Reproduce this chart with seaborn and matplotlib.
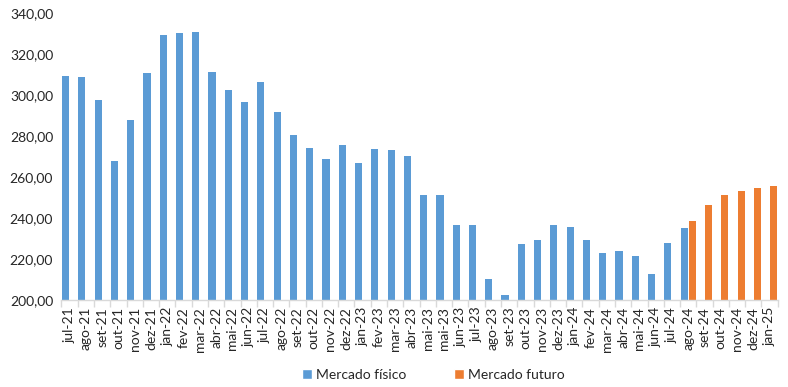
import numpy as np
import pandas as pd
import seaborn as sns
import matplotlib
matplotlib.use('Agg')
import matplotlib.pyplot as plt
from matplotlib.ticker import FuncFormatter, FixedLocator
from matplotlib.patches import Patch

# month labels as printed on the chart (mai-23 appears twice in the source)
meses = ['jul-21', 'ago-21', 'set-21', 'out-21', 'nov-21', 'dez-21',
         'jan-22', 'fev-22', 'mar-22', 'abr-22', 'mai-22', 'jun-22',
         'jul-22', 'ago-22', 'set-22', 'out-22', 'nov-22', 'dez-22',
         'jan-23', 'fev-23', 'mar-23', 'abr-23', 'mai-23', 'mai-23',
         'jun-23', 'jul-23', 'ago-23', 'set-23', 'out-23', 'nov-23',
         'dez-23', 'jan-24', 'fev-24', 'mar-24', 'abr-24', 'mai-24',
         'jun-24', 'jul-24', 'ago-24', 'set-24', 'out-24', 'nov-24',
         'dez-24', 'jan-25']

# Mercado fisico: jul-21 .. ago-24
fisico = [309.1, 308.8, 297.6, 267.8, 287.8, 310.7, 329.3, 330.2, 330.7,
          311.2, 302.4, 296.7, 306.3, 291.7, 280.3, 274.1, 268.8, 275.6,
          266.8, 273.5, 273.3, 270.4, 251.2, 251.2, 236.6, 236.7, 210.1,
          202.4, 227.3, 229.4, 236.8, 235.6, 229.3, 222.9, 223.7, 221.6,
          212.7, 227.6, 235.1]

# Mercado futuro: ago-24 .. jan-25
futuro = [238.7, 246.3, 251.1, 253.2, 254.6, 255.6]

cores = {'Mercado físico': '#5B9BD5', 'Mercado futuro': '#ED7D31'}

rows = []
for i, v in enumerate(fisico):
    rows.append({'pos': i, 'serie': 'Mercado físico', 'valor': v})
inicio_fut = len(fisico) - 1
for j, v in enumerate(futuro):
    rows.append({'pos': inicio_fut + j, 'serie': 'Mercado futuro', 'valor': v})
df = pd.DataFrame(rows)

sns.set_style('white')
plt.rcParams['font.family'] = ['Lato', 'DejaVu Sans']

fig = plt.figure(figsize=(7.88, 3.87), dpi=100)
ax = fig.add_axes([0.078, 0.225, 0.909, 0.741])

sns.barplot(data=df, x='pos', y='valor', hue='serie', order=list(range(len(meses))),
            hue_order=list(cores), palette=cores, width=1.0, gap=0.12,
            dodge=True, linewidth=0, saturation=1, legend=False, ax=ax)

ax.set_ylim(200, 340)
ax.set_xlim(-0.5, len(meses) - 0.5)
ax.set_yticks(np.arange(200, 341, 20))
ax.yaxis.set_major_formatter(FuncFormatter(lambda v, p: f'{v:.2f}'.replace('.', ',')))

ax.set_xticks(range(len(meses)))
ax.set_xticklabels(meses, rotation=90)
ax.xaxis.set_minor_locator(FixedLocator(np.arange(-0.5, len(meses), 1)))
ax.tick_params(axis='x', which='major', length=0, pad=5, labelsize=10, colors='#262626')
ax.tick_params(axis='x', which='minor', length=5, width=1, color='#D9D9D9', bottom=True)
ax.tick_params(axis='y', length=0, labelsize=10, colors='#262626', pad=6)

ax.set_xlabel('')
ax.set_ylabel('')
for s in ['top', 'right', 'left']:
    ax.spines[s].set_visible(False)
ax.spines['bottom'].set_color('#D9D9D9')
ax.spines['bottom'].set_linewidth(1)

handles = [Patch(facecolor=c, label=k) for k, c in cores.items()]
fig.legend(handles=handles, loc='center', bbox_to_anchor=(0.55, 0.031), ncol=2,
           frameon=False, fontsize=10, handlelength=0.7, handleheight=0.7,
           handletextpad=0.3, columnspacing=3.4, labelcolor='#262626')

fig.savefig('out.png', dpi=100)
